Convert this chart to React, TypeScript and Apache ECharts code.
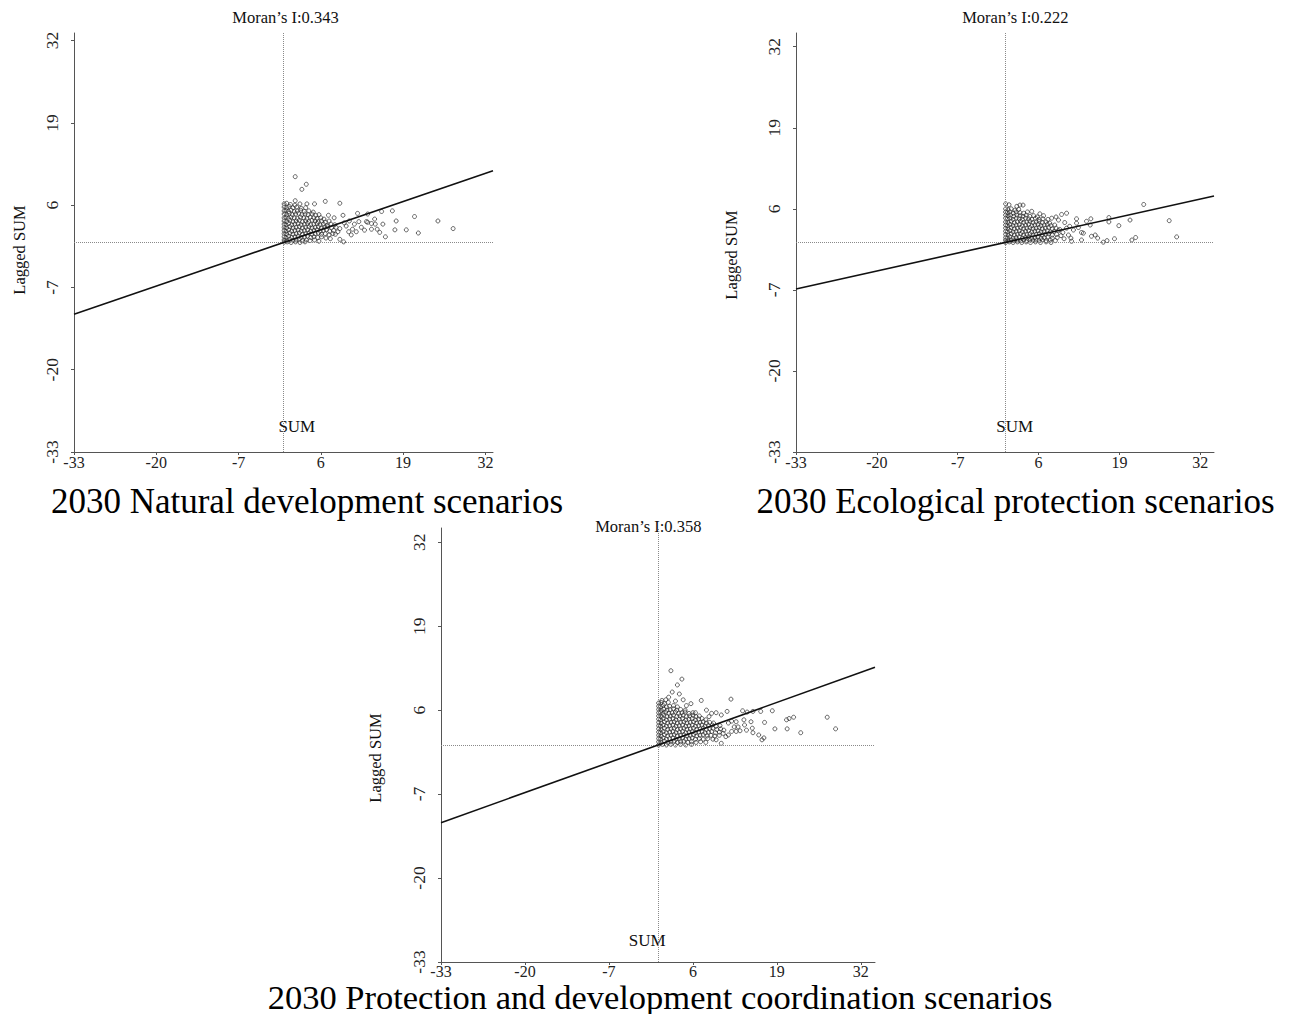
import React, { useEffect, useRef } from "react";
import * as echarts from "echarts";

const FONT = "'Liberation Serif', 'Times New Roman', serif";

// Tick labels shared by both axes of every panel
const TICK_LABELS = ["-33", "-20", "-7", "6", "19", "32"];

// Panel 1: 2030 Natural development scenarios
const NAT_CAPTION = "2030 Natural development scenarios";
const NAT_MORAN = 0.343;
const NAT_RANGE = 33.1;
const NAT_TICKS = [-33.1, -20.1, -7.1, 5.9, 18.9, 31.9];
const NAT_CORE: [number, number][] = [
  [0.1, 6.1], [0.5, 6.2], [1.1, 6.0], [1.8, 5.9],
  [0.1, 5.6], [0.5, 5.5], [0.9, 5.7], [1.5, 5.5], [2.1, 5.6], [2.8, 5.4], [3.5, 5.5],
  [0.1, 5.0], [0.4, 5.1], [0.8, 4.9], [1.2, 5.1], [1.7, 4.9], [2.2, 5.0], [2.7, 5.1], [3.3, 4.9], [4.0, 5.0], [4.7, 4.8],
  [0.1, 4.5], [0.5, 4.4], [0.9, 4.6], [1.4, 4.4], [1.9, 4.5], [2.4, 4.6], [2.9, 4.4], [3.4, 4.5], [3.9, 4.4], [4.5, 4.5], [5.1, 4.3], [5.6, 4.4],
  [0.1, 3.9], [0.4, 4.0], [0.8, 3.8], [1.2, 4.0], [1.7, 3.9], [2.2, 3.8], [2.7, 4.0], [3.2, 3.9], [3.7, 3.8], [4.2, 4.0], [4.8, 3.9], [5.3, 3.8], [5.9, 3.9], [6.4, 3.7],
  [0.1, 3.4], [0.5, 3.3], [1.0, 3.5], [1.5, 3.3], [2.0, 3.4], [2.5, 3.5], [3.0, 3.3], [3.5, 3.4], [4.0, 3.3], [4.5, 3.5], [5.0, 3.4], [5.5, 3.3], [6.0, 3.4], [6.6, 3.2], [7.2, 3.4],
  [0.1, 2.9], [0.4, 2.8], [0.8, 3.0], [1.3, 2.8], [1.8, 2.9], [2.3, 3.0], [2.8, 2.8], [3.3, 2.9], [3.8, 3.0], [4.3, 2.8], [4.8, 2.9], [5.3, 3.0], [5.8, 2.8], [6.3, 2.9], [6.9, 2.7], [7.5, 2.9], [8.1, 2.8],
  [0.1, 2.4], [0.5, 2.3], [1.0, 2.5], [1.5, 2.3], [2.0, 2.4], [2.5, 2.5], [3.0, 2.3], [3.5, 2.4], [4.0, 2.5], [4.5, 2.3], [5.0, 2.4], [5.5, 2.5], [6.0, 2.3], [6.5, 2.4], [7.0, 2.5], [7.6, 2.3], [8.3, 2.4], [8.9, 2.2],
  [0.1, 1.9], [0.4, 1.8], [0.8, 2.0], [1.3, 1.8], [1.8, 1.9], [2.3, 2.0], [2.8, 1.8], [3.3, 1.9], [3.8, 2.0], [4.3, 1.8], [4.8, 1.9], [5.3, 2.0], [5.8, 1.8], [6.3, 1.9], [6.8, 2.0], [7.3, 1.8], [7.9, 1.9], [8.6, 1.7],
  [0.1, 1.4], [0.5, 1.3], [1.0, 1.5], [1.5, 1.3], [2.0, 1.4], [2.5, 1.5], [3.0, 1.3], [3.5, 1.4], [4.0, 1.5], [4.5, 1.3], [5.0, 1.4], [5.5, 1.5], [6.0, 1.3], [6.6, 1.4], [7.2, 1.2], [7.8, 1.4],
  [0.1, 0.9], [0.4, 0.8], [0.8, 1.0], [1.3, 0.8], [1.8, 0.9], [2.3, 1.0], [2.8, 0.8], [3.3, 0.9], [3.8, 1.0], [4.3, 0.8], [4.8, 0.9], [5.4, 0.8], [6.0, 0.9], [6.7, 0.7],
  [0.1, 0.4], [0.5, 0.3], [1.0, 0.5], [1.5, 0.3], [2.0, 0.4], [2.5, 0.5], [3.0, 0.3], [3.6, 0.4], [4.2, 0.3], [4.9, 0.4], [5.6, 0.2],
  [0.1, 0.05], [0.6, 0.1], [1.2, 0.0], [1.9, 0.1], [2.6, 0.0], [3.4, 0.1],
];
const NAT_OUTLIERS: [number, number][] = [
  [1.85, 10.4], [2.9, 8.4], [3.6, 9.2], [1.85, 6.6], [2.6, 6.1], [3.7, 6.1], [4.9, 6.1], [6.6, 6.5],
  [8.9, 6.2], [9.4, 4.3], [11.7, 4.6], [10.4, 3.4], [11.9, 3.3], [13.3, 4.5], [13.3, 3.2], [14.4, 3.7],
  [15.5, 4.9], [15.7, 2.9], [17.2, 5.0], [17.8, 3.4], [17.6, 2.0], [16.1, 0.9], [19.4, 2.0], [20.7, 4.1],
  [21.3, 1.5], [24.4, 3.4], [26.8, 2.2], [15.2, 1.6], [13.9, 2.1], [12.8, 1.95], [12.3, 2.4], [11.5, 1.7],
  [10.7, 1.2], [10.3, 1.7], [9.5, 0.1], [8.9, 0.5], [13.9, 3.0], [14.8, 2.1], [14.5, 2.9], [13.1, 3.3],
  [11.2, 2.9], [9.9, 2.6], [7.1, 4.3], [8.0, 3.9], [9.6, 3.1], [10.9, 2.1], [7.4, 0.6], [8.2, 1.3],
];

// Panel 2: 2030 Ecological protection scenarios
const ECO_CAPTION = "2030 Ecological protection scenarios";
const ECO_MORAN = 0.222;
const ECO_RANGE = 33.6;
const ECO_TICKS = [-33.6, -20.6, -7.6, 5.4, 18.4, 31.4];
const ECO_CORE: [number, number][] = [
  [0.1, 5.4], [0.5, 5.3], [1.0, 5.4], [1.6, 5.2], [2.2, 5.3],
  [0.1, 4.9], [0.4, 4.8], [0.8, 4.9], [1.3, 4.7], [1.8, 4.9], [2.4, 4.8], [3.0, 4.7], [3.6, 4.9],
  [0.1, 4.4], [0.5, 4.3], [0.9, 4.4], [1.4, 4.2], [1.9, 4.4], [2.4, 4.3], [2.9, 4.2], [3.4, 4.4], [4.0, 4.2], [4.6, 4.3], [5.2, 4.1],
  [0.1, 3.9], [0.4, 3.8], [0.8, 3.9], [1.3, 3.7], [1.8, 3.9], [2.3, 3.8], [2.8, 3.7], [3.3, 3.9], [3.8, 3.8], [4.3, 3.7], [4.9, 3.9], [5.5, 3.7], [6.1, 3.8],
  [0.1, 3.3], [0.5, 3.2], [1.0, 3.4], [1.5, 3.2], [2.0, 3.3], [2.5, 3.4], [3.0, 3.2], [3.5, 3.3], [4.0, 3.4], [4.5, 3.2], [5.0, 3.3], [5.5, 3.4], [6.0, 3.2], [6.6, 3.3], [7.2, 3.1],
  [0.1, 2.8], [0.4, 2.7], [0.8, 2.9], [1.3, 2.7], [1.8, 2.8], [2.3, 2.9], [2.8, 2.7], [3.3, 2.8], [3.8, 2.9], [4.3, 2.7], [4.8, 2.8], [5.3, 2.9], [5.8, 2.7], [6.3, 2.8], [6.8, 2.9], [7.4, 2.7], [8.0, 2.8],
  [0.1, 2.3], [0.5, 2.2], [1.0, 2.4], [1.5, 2.2], [2.0, 2.3], [2.5, 2.4], [3.0, 2.2], [3.5, 2.3], [4.0, 2.4], [4.5, 2.2], [5.0, 2.3], [5.5, 2.4], [6.0, 2.2], [6.5, 2.3], [7.0, 2.4], [7.6, 2.2], [8.2, 2.3], [8.8, 2.1],
  [0.1, 1.8], [0.4, 1.7], [0.8, 1.9], [1.3, 1.7], [1.8, 1.8], [2.3, 1.9], [2.8, 1.7], [3.3, 1.8], [3.8, 1.9], [4.3, 1.7], [4.8, 1.8], [5.3, 1.9], [5.8, 1.7], [6.3, 1.8], [6.8, 1.9], [7.3, 1.7], [7.9, 1.8], [8.6, 1.9], [9.3, 1.6],
  [0.1, 1.3], [0.5, 1.2], [1.0, 1.4], [1.5, 1.2], [2.0, 1.3], [2.5, 1.4], [3.0, 1.2], [3.5, 1.3], [4.0, 1.4], [4.5, 1.2], [5.0, 1.3], [5.5, 1.4], [6.0, 1.2], [6.5, 1.3], [7.0, 1.4], [7.6, 1.2], [8.3, 1.3], [9.0, 1.1],
  [0.1, 0.8], [0.4, 0.7], [0.8, 0.9], [1.3, 0.7], [1.8, 0.8], [2.3, 0.9], [2.8, 0.7], [3.3, 0.8], [3.8, 0.9], [4.3, 0.7], [4.8, 0.8], [5.3, 0.9], [5.8, 0.7], [6.3, 0.8], [6.9, 0.9], [7.6, 0.7], [8.4, 0.8],
  [0.1, 0.4], [0.5, 0.3], [1.0, 0.4], [1.5, 0.3], [2.0, 0.4], [2.5, 0.3], [3.0, 0.4], [3.5, 0.3], [4.0, 0.4], [4.5, 0.3], [5.0, 0.4], [5.5, 0.3], [6.0, 0.4], [6.6, 0.3], [7.3, 0.4], [8.1, 0.3],
  [0.1, 0.0], [0.7, 0.1], [1.3, 0.0], [2.0, 0.1], [2.7, 0.0], [3.4, 0.1], [4.1, 0.0], [4.9, 0.1], [5.7, 0.0], [6.6, 0.1], [7.4, 0.0],
];
const ECO_OUTLIERS: [number, number][] = [
  [0.1, 6.2], [0.65, 6.05], [1.9, 5.8], [2.4, 6.0], [2.9, 6.0], [5.6, 4.6], [6.2, 4.3], [9.1, 4.5],
  [9.9, 4.7], [8.6, 3.6], [11.5, 3.1], [11.5, 3.8], [12.6, 1.5], [12.3, 0.4], [13.1, 3.4], [13.8, 3.8],
  [13.7, 2.8], [14.5, 1.2], [14.9, 0.7], [15.8, 0.05], [16.4, 0.3], [16.7, 4.0], [16.7, 3.3], [18.3, 2.7],
  [17.6, 0.6], [20.1, 3.6], [20.4, 0.4], [21.0, 0.8], [22.3, 6.1], [26.4, 3.5], [27.6, 0.9], [10.2, 1.2],
  [10.7, 0.2], [12.3, 1.6], [13.9, 1.0], [10.6, 0.7], [9.9, 2.3], [11.0, 2.0], [7.5, 3.9], [8.2, 4.1],
  [9.6, 3.2], [10.4, 2.6], [11.8, 2.4], [9.5, 0.6], [4.3, 5.0], [6.9, 3.7],
];

// Panel 3: 2030 Protection and development coordination scenarios
const COORD_CAPTION = "2030 Protection and development coordination scenarios";
const COORD_MORAN = 0.358;
const COORD_RANGE = 33.6;
const COORD_TICKS = [-33.6, -20.6, -7.6, 5.4, 18.4, 31.4];
const COORD_CORE: [number, number][] = [
  [0.1, 6.5], [0.5, 6.6], [1.0, 6.4], [1.6, 6.6],
  [0.1, 6.0], [0.4, 5.9], [0.8, 6.1], [1.3, 5.9], [1.8, 6.0], [2.4, 6.1], [3.0, 5.9],
  [0.1, 5.5], [0.5, 5.4], [0.9, 5.6], [1.4, 5.4], [1.9, 5.5], [2.4, 5.6], [2.9, 5.4], [3.5, 5.5], [4.2, 5.4],
  [0.1, 5.0], [0.4, 5.1], [0.8, 4.9], [1.2, 5.1], [1.7, 4.9], [2.2, 5.0], [2.7, 5.1], [3.2, 4.9], [3.7, 5.0], [4.2, 5.1], [4.8, 4.9], [5.4, 5.0],
  [0.1, 4.5], [0.5, 4.4], [0.9, 4.6], [1.4, 4.4], [1.9, 4.5], [2.4, 4.6], [2.9, 4.4], [3.4, 4.5], [3.9, 4.6], [4.4, 4.4], [4.9, 4.5], [5.4, 4.6], [5.9, 4.4], [6.4, 4.5],
  [0.1, 4.0], [0.4, 3.9], [0.8, 4.1], [1.3, 3.9], [1.8, 4.0], [2.3, 4.1], [2.8, 3.9], [3.3, 4.0], [3.8, 4.1], [4.3, 3.9], [4.8, 4.0], [5.3, 4.1], [5.8, 3.9], [6.3, 4.0], [6.8, 4.1], [7.4, 3.9],
  [0.1, 3.5], [0.5, 3.4], [1.0, 3.6], [1.5, 3.4], [2.0, 3.5], [2.5, 3.6], [3.0, 3.4], [3.5, 3.5], [4.0, 3.6], [4.5, 3.4], [5.0, 3.5], [5.5, 3.6], [6.0, 3.4], [6.5, 3.5], [7.0, 3.6], [7.5, 3.4], [8.0, 3.5], [8.6, 3.4],
  [0.1, 3.0], [0.4, 2.9], [0.8, 3.1], [1.3, 2.9], [1.8, 3.0], [2.3, 3.1], [2.8, 2.9], [3.3, 3.0], [3.8, 3.1], [4.3, 2.9], [4.8, 3.0], [5.3, 3.1], [5.8, 2.9], [6.3, 3.0], [6.8, 3.1], [7.3, 2.9], [7.8, 3.0], [8.4, 3.1], [9.0, 2.9], [9.6, 3.0],
  [0.1, 2.5], [0.5, 2.4], [1.0, 2.6], [1.5, 2.4], [2.0, 2.5], [2.5, 2.6], [3.0, 2.4], [3.5, 2.5], [4.0, 2.6], [4.5, 2.4], [5.0, 2.5], [5.5, 2.6], [6.0, 2.4], [6.5, 2.5], [7.0, 2.6], [7.5, 2.4], [8.0, 2.5], [8.5, 2.6], [9.1, 2.4], [9.7, 2.5], [10.2, 2.3],
  [0.1, 2.0], [0.4, 1.9], [0.8, 2.1], [1.3, 1.9], [1.8, 2.0], [2.3, 2.1], [2.8, 1.9], [3.3, 2.0], [3.8, 2.1], [4.3, 1.9], [4.8, 2.0], [5.3, 2.1], [5.8, 1.9], [6.3, 2.0], [6.8, 2.1], [7.3, 1.9], [7.8, 2.0], [8.3, 2.1], [8.9, 1.9], [9.5, 2.0], [10.1, 1.8],
  [0.1, 1.5], [0.5, 1.4], [1.0, 1.6], [1.5, 1.4], [2.0, 1.5], [2.5, 1.6], [3.0, 1.4], [3.5, 1.5], [4.0, 1.6], [4.5, 1.4], [5.0, 1.5], [5.5, 1.6], [6.0, 1.4], [6.5, 1.5], [7.0, 1.6], [7.6, 1.4], [8.2, 1.5], [8.8, 1.4], [9.5, 1.5],
  [0.1, 1.0], [0.4, 0.9], [0.8, 1.1], [1.3, 0.9], [1.8, 1.0], [2.3, 1.1], [2.8, 0.9], [3.3, 1.0], [3.8, 1.1], [4.3, 0.9], [4.8, 1.0], [5.3, 1.1], [5.8, 0.9], [6.4, 1.0], [7.0, 0.9], [7.7, 1.0], [8.5, 0.9],
  [0.1, 0.5], [0.5, 0.4], [1.0, 0.6], [1.5, 0.4], [2.0, 0.5], [2.5, 0.6], [3.0, 0.4], [3.5, 0.5], [4.0, 0.6], [4.6, 0.4], [5.2, 0.5], [5.9, 0.4], [6.6, 0.5], [7.4, 0.4],
  [0.1, 0.0], [0.7, 0.1], [1.3, 0.0], [2.0, 0.1], [2.7, 0.0], [3.5, 0.1], [4.3, 0.0], [5.2, 0.1],
];
const COORD_OUTLIERS: [number, number][] = [
  [2.0, 11.5], [3.7, 10.2], [3.0, 9.3], [2.2, 8.2], [3.3, 7.9], [1.65, 7.4], [2.7, 6.8], [3.9, 7.0],
  [5.1, 6.4], [6.7, 6.9], [11.3, 7.1], [7.5, 5.4], [5.8, 5.0], [8.3, 4.9], [9.0, 5.0], [9.8, 4.65],
  [10.7, 5.2], [13.1, 5.3], [13.8, 5.1], [14.7, 5.2], [15.9, 5.2], [17.7, 5.3], [19.9, 3.9], [20.3, 4.1],
  [21.0, 4.3], [26.2, 4.3], [27.5, 2.5], [22.1, 1.9], [20.0, 2.5], [18.1, 2.5], [16.5, 3.5], [16.4, 1.1],
  [16.1, 0.8], [15.6, 1.55], [14.7, 1.9], [14.6, 2.6], [13.4, 3.1], [13.7, 2.3], [12.4, 2.8], [12.7, 2.2],
  [12.1, 2.1], [11.4, 2.1], [10.9, 1.55], [10.5, 1.3], [9.8, 0.26], [9.0, 0.8], [13.3, 3.9], [14.4, 3.6],
  [11.4, 3.7], [12.1, 3.6], [1.2, 7.0], [0.6, 6.9], [4.4, 6.1], [7.9, 4.4], [10.9, 3.4], [11.8, 2.8],
];

export default function App() {
  const ref = useRef<HTMLDivElement>(null);

  useEffect(() => {
    if (!ref.current) return;
    const chart = echarts.init(ref.current, null, { renderer: "svg" });

    const panels = [
      {
        range: NAT_RANGE, ticks: NAT_TICKS, moran: NAT_MORAN, caption: NAT_CAPTION,
        points: [...NAT_CORE, ...NAT_OUTLIERS],
        grid: { left: 74, top: 33, width: 419, height: 419 }, xMargin: 3,
        title: [285.5, 17.3], sum: [296.8, 426.6], lagged: [19.4, 250], cap: [307, 501, 35],
      },
      {
        range: ECO_RANGE, ticks: ECO_TICKS, moran: ECO_MORAN, caption: ECO_CAPTION,
        points: [...ECO_CORE, ...ECO_OUTLIERS],
        grid: { left: 796, top: 33, width: 418, height: 419 }, xMargin: 3,
        title: [1015.3, 17.3], sum: [1014.7, 426.6], lagged: [731, 255], cap: [1015.5, 501, 35],
      },
      {
        range: COORD_RANGE, ticks: COORD_TICKS, moran: COORD_MORAN, caption: COORD_CAPTION,
        points: [...COORD_CORE, ...COORD_OUTLIERS],
        grid: { left: 441, top: 528, width: 434, height: 434 }, xMargin: 2,
        title: [648.3, 526.3], sum: [647.2, 940.3], lagged: [375, 758], cap: [660, 996.5, 34.5],
      },
    ];

    const fmt = (ticks: number[]) => (v: number) => {
      const i = ticks.findIndex((t) => Math.abs(t - v) < 1e-6);
      return i >= 0 ? TICK_LABELS[i] : "";
    };

    const axisCommon = (p: any, i: number, isX: boolean) => ({
      type: "value",
      gridIndex: i,
      min: -p.range,
      max: p.range,
      splitLine: { show: false },
      axisLine: { show: true, onZero: false, lineStyle: { color: "#555", width: 1 } },
      axisTick: { show: true, inside: false, length: 3, customValues: p.ticks, lineStyle: { color: "#555", width: 1 } },
      axisLabel: {
        customValues: p.ticks,
        formatter: fmt(p.ticks),
        fontFamily: FONT,
        fontSize: isX ? 16 : 17.5,
        lineHeight: isX ? 14 : 18,
        color: "#222",
        margin: isX ? p.xMargin : 13,
        rotate: isX ? 0 : 90,
        hideOverlap: false,
      },
    });

    const series: any[] = [];
    panels.forEach((p, i) => {
      series.push({
        type: "scatter",
        xAxisIndex: i,
        yAxisIndex: i,
        data: p.points,
        symbol: "circle",
        symbolSize: 4,
        silent: true,
        itemStyle: { color: "rgba(255,255,255,0)", borderColor: "#2a2a2a", borderWidth: 0.9 },
        z: 2,
        markLine: {
          silent: true,
          symbol: ["none", "none"],
          label: { show: false },
          lineStyle: { type: "dotted", color: "#8a8a8a", width: 1 },
          data: [{ xAxis: 0 }, { yAxis: 0 }],
        },
      });
      series.push({
        type: "line",
        xAxisIndex: i,
        yAxisIndex: i,
        data: [[-p.range, -p.range * p.moran], [p.range, p.range * p.moran]],
        symbol: "none",
        showSymbol: false,
        silent: true,
        lineStyle: { color: "#111", width: 1.6 },
        z: 5,
      });
    });

    const txt = (text: string, x: number, y: number, size: number, rotation = 0, color = "#111", lh?: number) => ({
      type: "text",
      x,
      y,
      rotation,
      silent: true,
      style: {
        text, fontFamily: FONT, fontSize: size, fill: color, align: "center", verticalAlign: "middle",
        ...(lh ? { lineHeight: lh } : {}),
      },
    });

    const graphic: any[] = [];
    panels.forEach((p) => {
      graphic.push(txt("Moran\u2019s I:" + p.moran.toFixed(3), p.title[0], p.title[1], 16.5));
      graphic.push(txt("SUM", p.sum[0], p.sum[1], 17));
      graphic.push(txt("Lagged SUM", p.lagged[0], p.lagged[1], 16.5, Math.PI / 2));
      graphic.push(txt(p.caption, p.cap[0], p.cap[1], p.cap[2], 0, "#000", 26));
    });

    chart.setOption({
      animation: false,
      backgroundColor: "#ffffff",
      grid: panels.map((p) => ({ ...p.grid, containLabel: false })),
      xAxis: panels.map((p, i) => axisCommon(p, i, true)),
      yAxis: panels.map((p, i) => axisCommon(p, i, false)),
      series,
      graphic,
    });

    return () => chart.dispose();
  }, []);

  return (
    <div
      ref={ref}
      style={{ position: "absolute", left: 0, top: 0, width: 1302, height: 1014, background: "#fff" }}
    />
  );
}
